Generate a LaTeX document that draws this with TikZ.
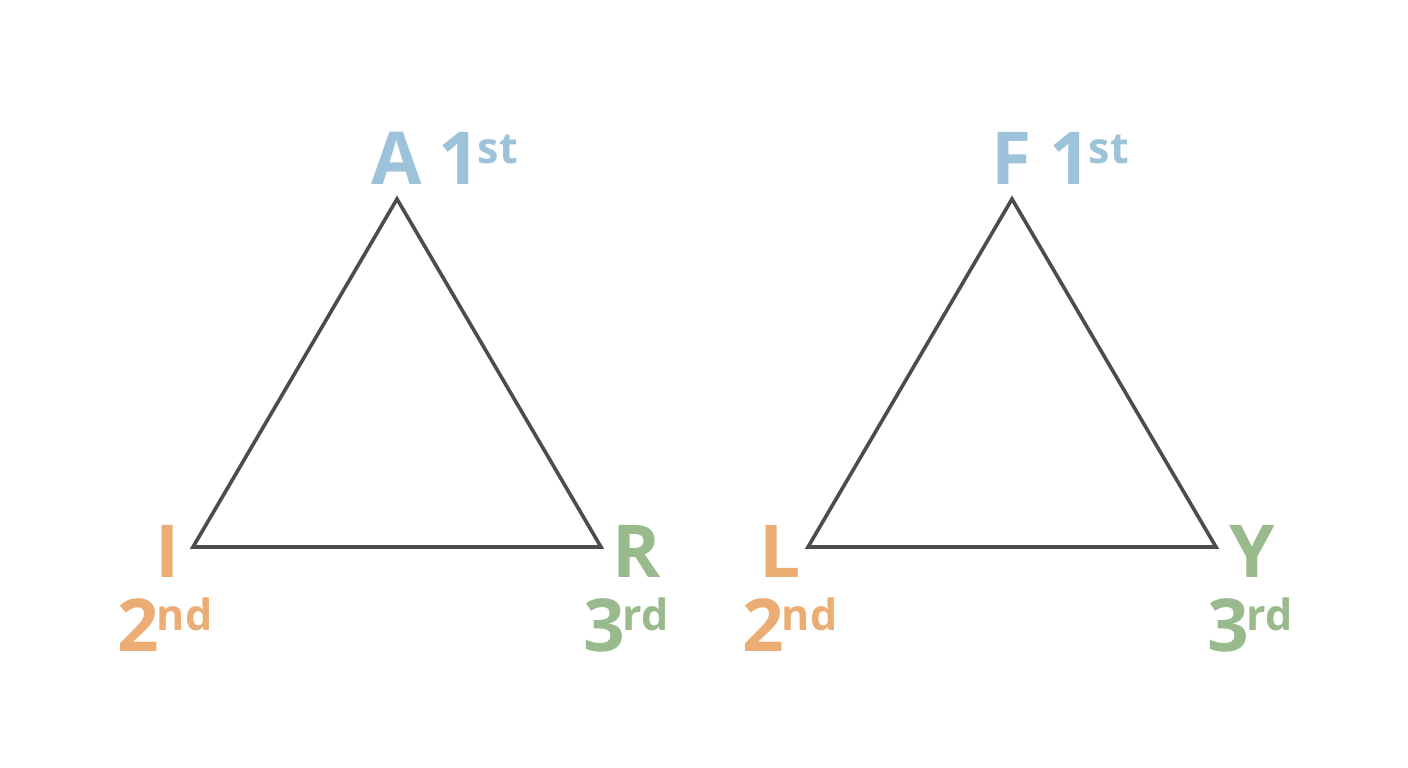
\documentclass[tikz,border=0pt]{standalone}
\usepackage{fontspec}
\setmainfont{Open Sans}
\usepackage{tikz}
\usetikzlibrary{positioning}

\definecolor{firstblue}{HTML}{9CC3D9}
\definecolor{secondorange}{HTML}{EBAD73}
\definecolor{thirdgreen}{HTML}{98BA8C}
\definecolor{edgegrey}{HTML}{4A4C4F}

\tikzset{
  side/.style={draw=edgegrey, line width=3.6pt},
  letter/.style={font=\fontsize{73}{80}\selectfont\bfseries, inner sep=0pt, anchor=base},
  ordinal/.style={letter, anchor=base west},
}
\newcommand{\ordtext}[2]{#1\kern-2pt\raisebox{21pt}{\fontsize{43}{46}\selectfont #2}}

\begin{document}
\begin{tikzpicture}[x=1pt, y=-1pt]
  \useasboundingbox (0,0) rectangle (1408,768);
  % left triangle
  \coordinate (a1) at (397,199);
  \coordinate[below left=348pt and 204pt of a1] (i1);
  \coordinate[below right=348pt and 204pt of a1] (r1);
  \draw[side] (a1) -- (r1) -- (i1) -- cycle;
  \node[letter, text=firstblue] (A) at (397,184) {A};
  \node[ordinal, text=firstblue] (A1) at (438,184) {\ordtext{1}{st}};
  \node[letter, text=secondorange] (I) at (168,577) {I};
  \node[ordinal, text=secondorange] (I2) at (117,651) {\ordtext{2}{nd}};
  \node[letter, text=thirdgreen] (R) at (637,577) {R};
  \node[ordinal, text=thirdgreen] (R3) at (583,651) {\ordtext{3}{rd}};
  % right triangle
  \coordinate[right=615pt of a1] (f1);
  \coordinate[below left=348pt and 204pt of f1] (l1);
  \coordinate[below right=348pt and 204pt of f1] (y1);
  \draw[side] (f1) -- (y1) -- (l1) -- cycle;
  \node[letter, text=firstblue] (F) at (1012,184) {F};
  \node[ordinal, text=firstblue] (F1) at (1049,184) {\ordtext{1}{st}};
  \node[letter, text=secondorange] (L) at (780,577) {L};
  \node[ordinal, text=secondorange] (L2) at (742,651) {\ordtext{2}{nd}};
  \node[letter, text=thirdgreen] (Y) at (1252,577) {Y};
  \node[ordinal, text=thirdgreen] (Y3) at (1207,651) {\ordtext{3}{rd}};
\end{tikzpicture}
\end{document}
